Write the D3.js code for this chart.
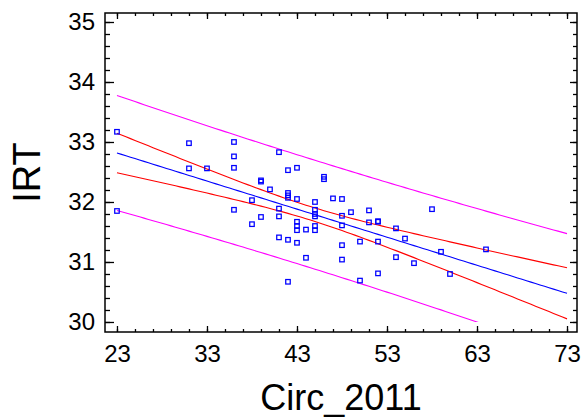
<!DOCTYPE html>
<html>
<head>
<meta charset="utf-8">
<script src="https://cdn.jsdelivr.net/npm/d3@7"></script>
<style>
    body { margin: 0; background: #fff; }
    #chart_container { width: 583px; height: 419px; }
    text { font-family: "Liberation Sans", Arial, sans-serif; fill: #000; }
</style>
</head>
<body>
<div id="chart_container"></div>
<script>
// Circ_2011 values of the points
var circ = [23, 23, 31, 31, 33, 36, 36, 36, 36, 38, 38, 39, 39, 39, 40, 41, 41, 41, 41,
    42, 42, 42, 42, 42, 42, 43, 43, 43, 43, 43, 43, 44, 44, 45, 45, 45, 45, 45, 45,
    46, 46, 47, 48, 48, 48, 48, 48, 49, 50, 50, 51, 51, 52, 52, 52, 52, 54, 54, 55,
    56, 58, 59, 60, 64];
// IRT values of the points
var irt = [33.17, 31.85, 32.98, 32.56, 32.56, 33.00, 32.76, 32.57, 31.87, 32.03, 31.63,
    32.36, 32.34, 31.75, 32.21, 32.83, 31.89, 31.76, 31.41,
    32.53, 32.15, 32.11, 32.07, 31.37, 30.67, 32.57, 32.05, 31.67, 31.60, 31.53, 31.32,
    31.54, 31.07, 32.00, 31.87, 31.80, 31.76, 31.60, 31.53,
    32.42, 32.38, 32.06, 32.05, 31.77, 31.61, 31.28, 31.04, 31.83, 31.34, 30.69,
    31.86, 31.66, 31.68, 31.67, 31.34, 30.81, 31.56, 31.08, 31.39,
    30.98, 31.88, 31.17, 30.80, 31.21];

var x_ticks = [23, 33, 43, 53, 63, 73];
var y_ticks = [30, 31, 32, 33, 34, 35];
var t_crit = 2.0; // 95%, df = n - 2

draw_chart();

function draw_chart() {
    var chart_width = 583, chart_height = 419;
    var margin = { top: 13, right: 6, bottom: 87, left: 105 };
    var width = chart_width - margin.left - margin.right;
    var height = chart_height - margin.top - margin.bottom;

    var x = d3.scaleLinear().domain([21.67, 74.11]).range([0, width]);
    var y = d3.scaleLinear().domain([29.833, 35.15]).range([height, 0]);

    var svg = d3.select("#chart_container")
        .append("svg")
        .attr("width", chart_width)
        .attr("height", chart_height);

    var g = svg.append("g")
        .attr("transform", "translate(" + margin.left + "," + margin.top + ")");

    // least squares fit with confidence and prediction limits
    var n = circ.length;
    var x_mean = d3.mean(circ), y_mean = d3.mean(irt);
    var sxx = d3.sum(circ, d => (d - x_mean) * (d - x_mean));
    var sxy = d3.sum(circ, (d, i) => (d - x_mean) * (irt[i] - y_mean));
    var slope = sxy / sxx;
    var intercept = y_mean - slope * x_mean;
    var sse = d3.sum(circ, (d, i) => Math.pow(irt[i] - (intercept + slope * d), 2));
    var s = Math.sqrt(sse / (n - 2));

    var xs = d3.range(23, 73.001, 0.5);
    var fit = xs.map(function (v) {
        var yh = intercept + slope * v;
        var k = (v - x_mean) * (v - x_mean) / sxx + 1 / n;
        var ci = t_crit * s * Math.sqrt(k);
        var pi = t_crit * s * Math.sqrt(1 + k);
        return { x: v, y: yh, cl: yh - ci, cu: yh + ci, pl: yh - pi, pu: yh + pi };
    });

    svg.append("defs").append("clipPath")
        .attr("id", "plot_clip")
        .append("rect")
        .attr("x", 0)
        .attr("y", y(35))
        .attr("width", width)
        .attr("height", y(30) - y(35));

    var lines = g.append("g").attr("clip-path", "url(#plot_clip)");
    var bands = [
        { key: "pu", color: "#ff00ff" },
        { key: "pl", color: "#ff00ff" },
        { key: "cu", color: "#ff0000" },
        { key: "cl", color: "#ff0000" },
        { key: "y", color: "#0000ff" }
    ];
    bands.forEach(function (b) {
        lines.append("path")
            .datum(fit)
            .attr("fill", "none")
            .attr("stroke", b.color)
            .attr("stroke-width", 1.1)
            .attr("d", d3.line().x(d => x(d.x)).y(d => y(d[b.key])));
    });

    // points
    g.append("g")
        .selectAll("rect")
        .data(circ)
        .enter()
        .append("rect")
        .attr("x", d => x(d) - 2.25)
        .attr("y", (d, i) => y(irt[i]) - 2.25)
        .attr("width", 4.5)
        .attr("height", 4.5)
        .attr("fill", "none")
        .attr("stroke", "#0000ff")
        .attr("stroke-width", 1.25);

    // frame
    g.append("rect")
        .attr("width", width)
        .attr("height", height)
        .attr("fill", "none")
        .attr("stroke", "#000")
        .attr("stroke-width", 1.5);

    var x_minor = d3.range(23, 73.001, 2);
    var y_minor = d3.range(30, 35.001, 0.2);

    function tick_axis(axis, vals, size, tx, ty, labels) {
        var a = g.append("g")
            .attr("transform", "translate(" + tx + "," + ty + ")")
            .call(axis.tickValues(vals).tickSize(size).tickPadding(8)
                .tickFormat(labels ? d3.format("d") : ""));
        a.select(".domain").remove();
        a.selectAll("line").attr("stroke", "#000").attr("stroke-width", 1.3);
        return a;
    }

    tick_axis(d3.axisBottom(x), x_minor, -3, 0, height, false);
    var xa = tick_axis(d3.axisBottom(x), x_ticks, -6, 0, height, true);
    xa.selectAll("text").attr("y", 13).style("font-size", "24px");
    tick_axis(d3.axisTop(x), x_minor, -3, 0, 0, false);
    tick_axis(d3.axisTop(x), x_ticks, -6, 0, 0, false);

    tick_axis(d3.axisLeft(y), y_minor, -5, 0, 0, false);
    var ya = tick_axis(d3.axisLeft(y), y_ticks, -9, 0, 0, true);
    ya.selectAll("text").attr("x", -10).style("font-size", "24px");
    tick_axis(d3.axisRight(y), y_minor, -4, width, 0, false);
    tick_axis(d3.axisRight(y), y_ticks, -7, width, 0, false);

    // axis titles
    svg.append("text")
        .attr("x", margin.left + width / 2)
        .attr("y", 410)
        .attr("text-anchor", "middle")
        .style("font-size", "36px")
        .text("Circ_2011");

    svg.append("text")
        .attr("transform", "translate(40," + (margin.top + height / 2) + ") rotate(-90)")
        .attr("text-anchor", "middle")
        .style("font-size", "38px")
        .text("IRT");
}
</script>
</body>
</html>
